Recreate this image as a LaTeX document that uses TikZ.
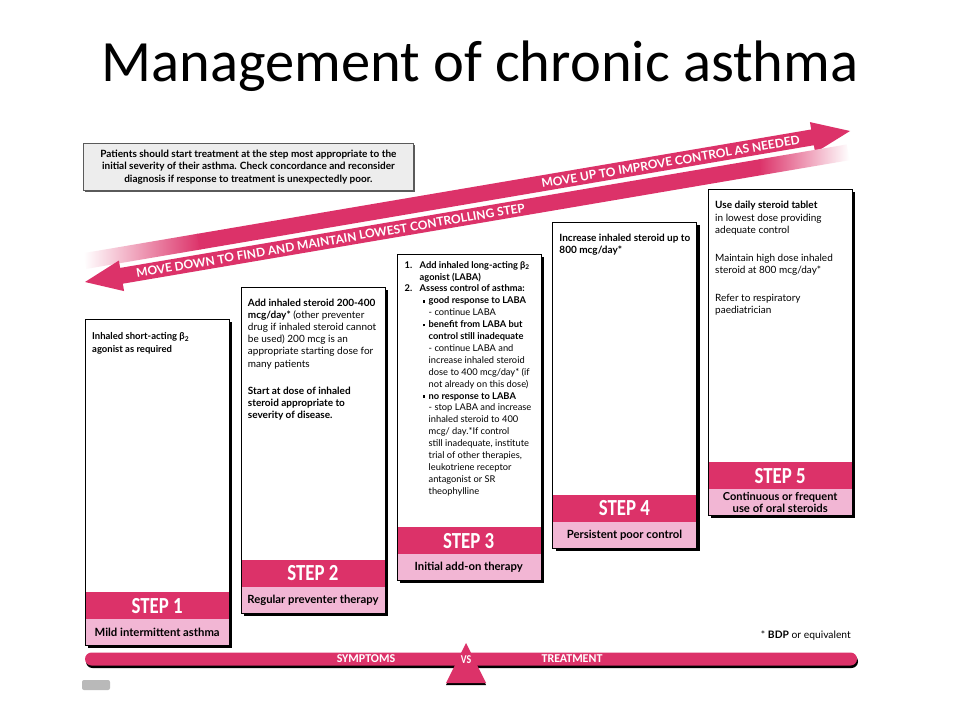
\documentclass[tikz,border=0pt]{standalone}
\usepackage{fontspec}
\setmainfont{Lato}
\newfontfamily\titlefont{Carlito}
\usetikzlibrary{shadows,calc}
\definecolor{mag}{RGB}{220,50,105}
\definecolor{lpink}{RGB}{242,182,212}
\definecolor{infogray}{RGB}{237,237,237}
\definecolor{darkgray2}{RGB}{90,90,90}
\tikzset{
  stepbox/.style={draw=black, line width=0.6pt, fill=white, minimum width=144pt, minimum height=326pt,
    anchor=north west, inner sep=0pt, drop shadow={shadow xshift=3pt, shadow yshift=-3pt, fill=black, opacity=1}},
  stepoutline/.style={draw=black, line width=0.6pt, minimum width=144pt, minimum height=326pt, anchor=north west, inner sep=0pt},
  darkband/.style={fill=mag, minimum width=144pt, minimum height=27pt, anchor=south west, inner sep=0pt,
    text=white, font=\titlefont\bfseries\fontsize{23}{24}\selectfont},
  lightband/.style={fill=lpink, minimum width=144pt, minimum height=26pt, anchor=south west, inner sep=0pt,
    align=center, font=\bfseries\fontsize{11.3}{12}\selectfont},
  steptext/.style={anchor=north west, inner sep=0pt, align=left},
  arrowtext/.style={text=white, font=\bfseries\fontsize{12}{13}\selectfont, inner sep=0pt, transform shape},
  bartext/.style={text=white, font=\titlefont\bfseries\fontsize{12}{13}\selectfont, inner sep=0pt},
}
\newcommand\sq{\raisebox{1.3pt}{\rule{2.5pt}{2.5pt}}}
\newcommand\steplabel[1]{\scalebox{0.82}[1]{#1}}
\begin{document}
\begin{tikzpicture}[x=1pt,y=-1pt]
\useasboundingbox (0,0) rectangle (960,720);
\fill[white] (0,0) rectangle (960,720);

% title
\node[font=\titlefont\fontsize{58.5}{62}\selectfont, anchor=base, inner sep=0pt] (title) at (480,81) {Management of chronic asthma};

% info box
\node[draw=darkgray2, line width=0.8pt, fill=infogray, minimum width=330pt, minimum height=47pt, anchor=north west, inner sep=0pt,
  drop shadow={shadow xshift=1.5pt, shadow yshift=-1.5pt, fill=darkgray2, opacity=1}] (info) at (83,143) {};
\node[align=center, font=\bfseries\fontsize{10}{12.5}\selectfont, inner sep=0pt] (infotext) at (info.center)
  {Patients should start treatment at the step most appropriate to the\\
   initial severity of their asthma. Check concordance and reconsider\\
   diagnosis if response to treatment is unexpectedly poor.};

% upper arrow (move up)
\begin{scope}[shift={(85,261)}, rotate=9.645]
  \shade[left color=white, right color=mag] (0,-8) rectangle (116,8);
  \fill[mag] (115,-8) -- (738,-8) -- (738,-15.5) -- (776,0) -- (738,15.5) -- (738,8) -- (115,8) -- cycle;
  \node[arrowtext] (uptext) at (594,0.3) {MOVE UP TO IMPROVE CONTROL AS NEEDED};
\end{scope}

% lower arrow (move down)
\begin{scope}[shift={(85,282)}, rotate=9.645]
  \fill[mag] (0,0) -- (37,-15.5) -- (37,-8) -- (686,-8) -- (686,8) -- (37,8) -- (37,15.5) -- cycle;
  \shade[left color=mag, right color=white] (685,-8) rectangle (774,8);
  \node[arrowtext] (downtext) at (249,0.3) {MOVE DOWN TO FIND AND MAINTAIN LOWEST CONTROLLING STEP};
\end{scope}

% steps
\newcommand\mkstep[4]{%
  \node[stepbox] (s#1) at (#2,#3) {};
  \node[darkband] (s#1band) at ([yshift=26pt]s#1.south west) {\steplabel{STEP #1}};
  \node[lightband] (s#1lab) at (s#1.south west) {#4};
  \node[stepoutline] (s#1out) at (#2,#3) {};
}
\mkstep{1}{85}{319}{Mild intermittent asthma}
\mkstep{2}{240.75}{286.5}{Regular preventer therapy}
\mkstep{3}{396.5}{254}{Initial add-on therapy}
\mkstep{4}{552.25}{221.5}{Persistent poor control}
\mkstep{5}{708}{189}{\fontsize{11}{11.5}\selectfont Continuous or frequent\\ use of oral steroids}

\node[steptext, font=\bfseries\fontsize{9.5}{13}\selectfont] (t1) at ([xshift=7pt,yshift=-13pt]s1.north west)
  {Inhaled short-acting β\textsubscript{2}\\ agonist as required};

\node[steptext, font=\fontsize{10}{12.2}\selectfont] (t2) at ([xshift=7pt,yshift=-12pt]s2.north west)
  {\textbf{Add inhaled steroid 200-400}\\
   \textbf{mcg/day*} (other preventer\\
   drug if inhaled steroid cannot\\
   be used) 200 mcg is an\\
   appropriate starting dose for\\
   many patients\\[15pt]
   \textbf{Start at dose of inhaled}\\
   \textbf{steroid appropriate to}\\
   \textbf{severity of disease.}};

\node[steptext, font=\fontsize{9.3}{11.9}\selectfont] (t3) at ([xshift=8pt,yshift=-7pt]s3.north west)
  {\textbf{\makebox[15pt][l]{1.}Add inhaled long-acting β\textsubscript{2}}\\
   \hspace*{15pt}\textbf{agonist (LABA)}\\
   \textbf{\makebox[15pt][l]{2.}Assess control of asthma:}\\
   \hspace*{18pt}\makebox[6pt][l]{\sq}\textbf{good response to LABA}\\
   \hspace*{24pt}- continue LABA\\
   \hspace*{18pt}\makebox[6pt][l]{\sq}\textbf{benefit from LABA but}\\
   \hspace*{24pt}\textbf{control still inadequate}\\
   \hspace*{24pt}- continue LABA and\\
   \hspace*{24pt}increase inhaled steroid\\
   \hspace*{24pt}dose to 400 mcg/day* (if\\
   \hspace*{24pt}not already on this dose)\\
   \hspace*{18pt}\makebox[6pt][l]{\sq}\textbf{no response to LABA}\\
   \hspace*{24pt}- stop LABA and increase\\
   \hspace*{24pt}inhaled steroid to 400\\
   \hspace*{24pt}mcg/ day.*If control\\
   \hspace*{24pt}still inadequate, institute\\
   \hspace*{24pt}trial of other therapies,\\
   \hspace*{24pt}leukotriene receptor\\
   \hspace*{24pt}antagonist or SR\\
   \hspace*{24pt}theophylline};

\node[steptext, font=\bfseries\fontsize{10}{12}\selectfont] (t4) at ([xshift=7pt,yshift=-12pt]s4.north west)
  {Increase inhaled steroid up to\\ 800 mcg/day*};

\node[steptext, font=\fontsize{10}{12.5}\selectfont] (t5) at ([xshift=7pt,yshift=-12pt]s5.north west)
  {\textbf{Use daily steroid tablet}\\
   in lowest dose providing\\
   adequate control\\[15pt]
   Maintain high dose inhaled\\
   steroid at 800 mcg/day*\\[15pt]
   Refer to respiratory\\
   paediatrician};

% footnote
\node[anchor=east, font=\fontsize{10.3}{12}\selectfont, inner sep=0pt] (bdp) at (851,635) {* \textbf{BDP} or equivalent};

% bottom bar
\node[fill=mag, rounded corners=6.5pt, minimum width=772pt, minimum height=13pt, inner sep=0pt,
  drop shadow={shadow xshift=1pt, shadow yshift=-2.5pt, fill=black, opacity=1}] (bar) at (471,659) {};
\coordinate (apex) at (466,643);
\coordinate (bl) at (446,683);
\coordinate (br) at (486,683);
\fill[black] ([yshift=-2pt]apex) -- ([yshift=-2pt]bl) -- ([yshift=-2pt]br) -- cycle;
\fill[mag] (apex) -- (bl) -- (br) -- cycle;
\node[bartext] (vs) at (466,660) {\steplabel{VS}};
\node[bartext] (sym) at (366,659) {SYMPTOMS};
\node[bartext] (treat) at (572,659) {TREATMENT};

% grey fragment bottom-left
\fill[gray!55, rounded corners=2pt] (82,690) -- (82,680) -- (110,680) -- (110,690) -- cycle;
\end{tikzpicture}
\end{document}
